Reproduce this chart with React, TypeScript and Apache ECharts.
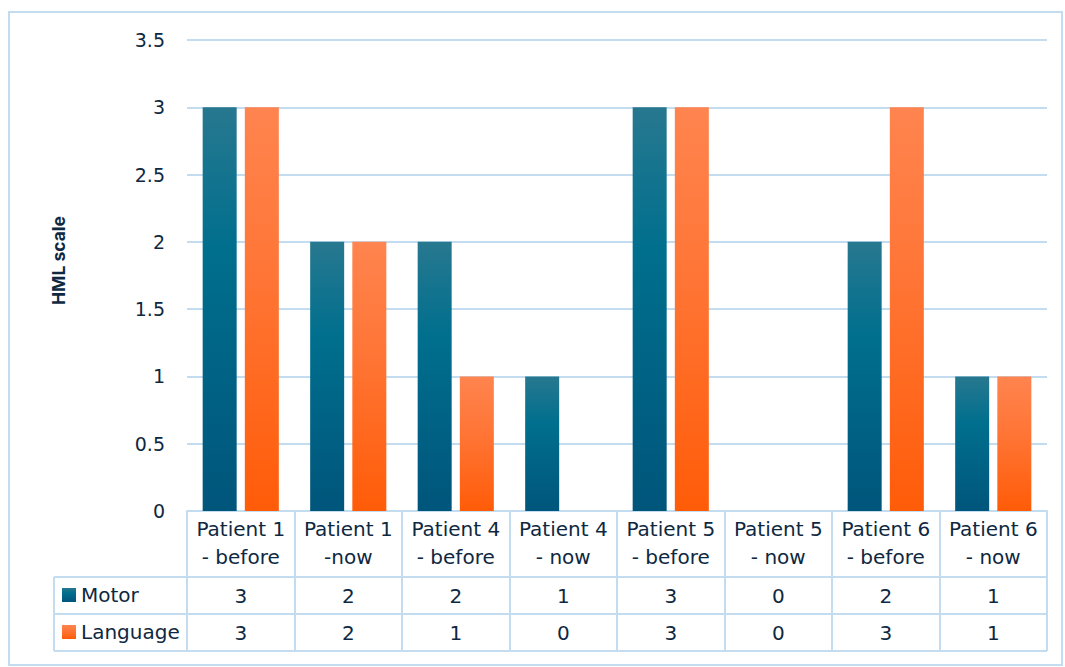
import React, { useEffect, useRef } from "react";
import * as echarts from "echarts";

const categories = [
  "Patient 1\n- before",
  "Patient 1\n-now",
  "Patient 4\n- before",
  "Patient 4\n- now",
  "Patient 5\n- before",
  "Patient 5\n- now",
  "Patient 6\n- before",
  "Patient 6\n- now",
];
const motor = [3, 2, 2, 1, 3, 0, 2, 1];
const language = [3, 2, 1, 0, 3, 0, 3, 1];
const seriesNames = ["Motor", "Language"];
const yMin = 0;
const yMax = 3.5;
const yStep = 0.5;

const LINE = "#c3dcf0";
const TEXT = "#0e2841";
const FONT = "'DejaVu Sans', 'Noto Sans', sans-serif";

const motorColor = new echarts.graphic.LinearGradient(0, 0, 0, 1, [
  { offset: 0, color: "#27788f" },
  { offset: 0.35, color: "#006f8e" },
  { offset: 1, color: "#00557b" },
]);
const langColor = new echarts.graphic.LinearGradient(0, 0, 0, 1, [
  { offset: 0, color: "#ff844f" },
  { offset: 0.4, color: "#ff7637" },
  { offset: 1, color: "#ff5c08" },
]);

export default function App() {
  const ref = useRef<HTMLDivElement>(null);
  useEffect(() => {
    const chart = echarts.init(ref.current!, null, { renderer: "svg" });
    const gridLeft = 187;
    const gridRight = 1047;
    const legendText = { color: TEXT, fontSize: 20, fontFamily: FONT, lineHeight: 22 };
    const option: any = {
      animation: false,
      backgroundColor: "#ffffff",
      grid: { left: gridLeft, right: 1065 - gridRight, top: 40, bottom: 156 },
      legend: [
        {
          data: [seriesNames[0]],
          left: 62,
          top: 584,
          padding: 0,
          itemWidth: 14,
          itemHeight: 14,
          itemGap: 6,
          icon: "rect",
          textStyle: legendText,
        },
        {
          data: [seriesNames[1]],
          left: 62,
          top: 621,
          padding: 0,
          itemWidth: 14,
          itemHeight: 14,
          itemGap: 6,
          icon: "rect",
          textStyle: legendText,
        },
      ],
      xAxis: {
        type: "category",
        data: categories,
        axisLine: { show: true, lineStyle: { color: LINE, width: 2 } },
        axisTick: { show: true, length: 140, lineStyle: { color: LINE, width: 2 } },
        axisLabel: {
          color: TEXT,
          fontSize: 20,
          fontFamily: FONT,
          lineHeight: 28,
          margin: 4,
          interval: 0,
        },
      },
      yAxis: {
        type: "value",
        min: yMin,
        max: yMax,
        interval: yStep,
        name: "HML scale",
        nameLocation: "middle",
        nameGap: 120,
        nameRotate: 90,
        nameTextStyle: {
          color: TEXT,
          fontSize: 17.5,
          fontWeight: "bold",
          fontFamily: "Inter, sans-serif",
          padding: [0, 0, 0, 30],
        },
        axisLine: { show: false },
        axisTick: { show: false },
        axisLabel: { color: TEXT, fontSize: 19, fontFamily: FONT, margin: 22 },
        splitLine: { lineStyle: { color: LINE, width: 2 } },
      },
      series: [
        {
          name: seriesNames[0],
          type: "bar",
          data: motor,
          barWidth: 34,
          barGap: "24%",
          itemStyle: { color: motorColor },
        },
        {
          name: seriesNames[1],
          type: "bar",
          data: language,
          barWidth: 34,
          barGap: "24%",
          itemStyle: { color: langColor },
        },
      ],
    };
    chart.setOption(option);

    const y0 = chart.convertToPixel({ yAxisIndex: 0 }, 0) as number;
    const rowTop = y0 + 66;
    const rowH = 37;
    const tableLeft = 54;
    const graphic: any[] = [
      {
        type: "rect",
        silent: true,
        z: -10,
        shape: { x: 9, y: 12, width: 1053, height: 653 },
        style: { fill: "none", stroke: LINE, lineWidth: 2 },
      },
    ];
    for (let r = 0; r <= 2; r++) {
      graphic.push({
        type: "line",
        silent: true,
        shape: { x1: tableLeft, y1: rowTop + r * rowH, x2: gridRight, y2: rowTop + r * rowH },
        style: { stroke: LINE, lineWidth: 2 },
      });
    }
    graphic.push({
      type: "line",
      silent: true,
      shape: { x1: tableLeft, y1: rowTop, x2: tableLeft, y2: rowTop + 2 * rowH },
      style: { stroke: LINE, lineWidth: 2 },
    });
    const rows = [motor, language];
    rows.forEach((vals, r) => {
      vals.forEach((v, i) => {
        const x = chart.convertToPixel({ xAxisIndex: 0 }, i) as number;
        graphic.push({
          type: "text",
          silent: true,
          x,
          y: rowTop + r * rowH + rowH / 2,
          style: {
            text: String(v),
            fill: TEXT,
            font: `20px ${FONT}`,
            align: "center",
            verticalAlign: "middle",
          },
        });
      });
    });
    chart.setOption({ graphic });

    return () => chart.dispose();
  }, []);
  return (
    <div
      ref={ref}
      style={{ position: "fixed", left: 0, top: 0, width: 1065, height: 667 }}
    />
  );
}
